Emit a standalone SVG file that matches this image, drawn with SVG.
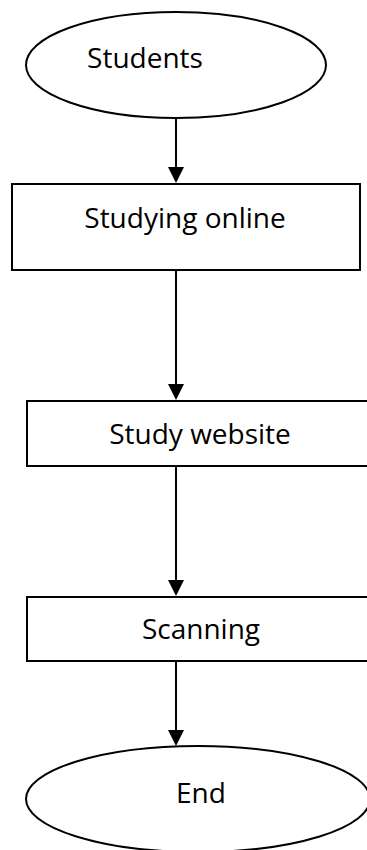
<svg xmlns="http://www.w3.org/2000/svg" width="367" height="850" viewBox="0 0 367 850">
<style>
.shape{fill:#ffffff;stroke:#000000;stroke-width:2}
.lbl{font-family:"Open Sans","Noto Sans",sans-serif;font-size:28px;fill:#000000;text-anchor:middle}
.conn{stroke:#000000;stroke-width:2;fill:none}
</style>
<defs>
<marker id="ah" viewBox="0 0 16 16" refX="8" refY="8" markerWidth="16" markerHeight="16" markerUnits="userSpaceOnUse" orient="auto">
<path d="M0,0 L16,8 L0,16 z" fill="#000000"/>
</marker>
</defs>
<rect width="367" height="850" fill="#ffffff"/>
<g id="connectors">
<line class="conn" x1="176" y1="118" x2="176" y2="175" marker-end="url(#ah)"/>
<line class="conn" x1="176" y1="270" x2="176" y2="392" marker-end="url(#ah)"/>
<line class="conn" x1="176" y1="466" x2="176" y2="588" marker-end="url(#ah)"/>
<line class="conn" x1="176" y1="661" x2="176" y2="738" marker-end="url(#ah)"/>
</g>
<g id="students">
<ellipse class="shape" cx="176" cy="65" rx="150" ry="53"/>
<text class="lbl" x="145" y="68">Students</text>
</g>
<g id="studying-online">
<rect class="shape" x="12" y="184" width="348" height="86"/>
<text class="lbl" x="185" y="228">Studying online</text>
</g>
<g id="study-website">
<rect class="shape" x="27" y="401" width="360" height="65"/>
<text class="lbl" x="200" y="444">Study website</text>
</g>
<g id="scanning">
<rect class="shape" x="27" y="597" width="360" height="64"/>
<text class="lbl" x="201" y="639">Scanning</text>
</g>
<g id="end">
<ellipse class="shape" cx="198" cy="799" rx="172" ry="53"/>
<text class="lbl" x="201" y="803">End</text>
</g>
</svg>
